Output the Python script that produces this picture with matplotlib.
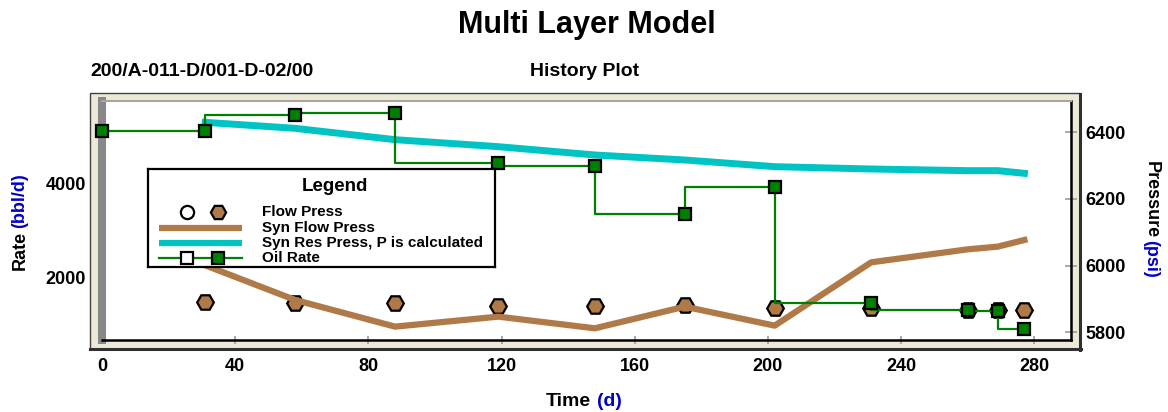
import matplotlib
matplotlib.use("Agg")
import matplotlib.pyplot as plt
from matplotlib.patches import Rectangle
from matplotlib.lines import Line2D

plt.rcParams['font.family'] = ['Liberation Sans', 'DejaVu Sans']
plt.rcParams['font.weight'] = 'bold'

# history data (days)
time_d = [0, 31, 58, 88, 119, 148, 175, 202, 231, 260, 269, 277]
oil_rate = [5120, 5120, 5455, 5500, 4425, 4375, 3355, 3915, 1460, 1315, 1285, 890]

press_t = [31, 58, 88, 119, 148, 175, 202, 231, 260, 269, 277]
flow_press = [5892, 5888, 5888, 5879, 5879, 5882, 5874, 5872, 5867, 5867, 5867]
syn_flow_press = [6001, 5897, 5817, 5847, 5812, 5877, 5820, 6010, 6049, 6057, 6077]
syn_res_press = [6430, 6412, 6378, 6357, 6332, 6317, 6297, 6290, 6285, 6285, 6277]

x_ticks = [0, 40, 80, 120, 160, 200, 240, 280]
rate_ticks = [2000, 4000]
press_ticks = [5800, 6000, 6200, 6400]

BROWN = '#b07a48'
CYAN = '#00c4c4'
GREEN = '#008000'
BLUE = '#0000c8'

W, H = 1168, 412


def fx(px):
    return px / W


def fy(py):
    return 1 - py / H


fig = plt.figure(figsize=(W / 100, H / 100), dpi=100)

# beveled frame around the plot area
fig.patches.append(Rectangle((fx(90), fy(349)), (1080 - 90) / W, (349 - 93) / H,
                             transform=fig.transFigure, facecolor='#ece9d8',
                             edgecolor='#404040', lw=1, zorder=-2))
fig.lines.append(Line2D([fx(1080), fx(1080)], [fy(94), fy(350)], transform=fig.transFigure,
                        color='#303030', lw=2.2, zorder=-1))
fig.lines.append(Line2D([fx(90), fx(1081)], [fy(349), fy(349)], transform=fig.transFigure,
                        color='#303030', lw=2.2, zorder=-1))

ax = fig.add_axes([fx(102), fy(339.5), (1071 - 102) / W, (339.5 - 101) / H])
ax2 = ax.twinx()
ax.set_zorder(ax2.get_zorder() + 1)
ax.patch.set_visible(False)
ax2.patch.set_visible(True)
ax2.patch.set_facecolor('white')

# pressure curves
ax2.plot(press_t, flow_press, linestyle='none', marker='H', ms=12,
         mfc=BROWN, mec='black', mew=1.6, zorder=2)
ax2.plot(press_t, syn_flow_press, color=BROWN, lw=4.5, zorder=3)
ax2.plot(press_t, syn_res_press, color=CYAN, lw=5, zorder=3)

# oil rate
ax.step(time_d, oil_rate, where='pre', color=GREEN, lw=1.6, marker='s', ms=8,
        mfc=GREEN, mec='black', mew=1.6, zorder=3, clip_on=False)

ax.set_xlim(0, 291)
ax.set_ylim(677, 5751)
ax2.set_ylim(5778.4, 6494)

ax.set_xticks(x_ticks)
ax.set_yticks(rate_ticks)
ax2.set_yticks(press_ticks)

ax.spines['right'].set_visible(False)
ax.spines['left'].set_color('#888888')
ax.spines['left'].set_linewidth(5.8)
ax.spines['bottom'].set_color('black')
ax.spines['bottom'].set_linewidth(1.8)
ax.spines['top'].set_color('#aaa69a')
ax.spines['top'].set_linewidth(1.5)
for s in ['left', 'top', 'bottom']:
    ax2.spines[s].set_visible(False)
ax2.spines['right'].set_color('black')
ax2.spines['right'].set_linewidth(1.8)

ax.tick_params(axis='x', direction='inout', length=5.8, width=1.4, color='#a8a8a8',
               pad=10.5, labelsize=13)
ax.tick_params(axis='y', direction='inout', length=5.8, width=1.2, color='#bdbdbd',
               pad=8.6, labelsize=13)
ax2.tick_params(axis='y', direction='inout', length=8.4, width=1.4, color='#a8a8a8',
                pad=5.9, labelsize=13)
for lbl in ax.get_xticklabels() + ax.get_yticklabels() + ax2.get_yticklabels():
    lbl.set_fontweight('bold')

# titles
fig.text(fx(587), fy(33), 'Multi Layer Model', ha='center', va='baseline',
         fontsize=22, fontweight='bold')
fig.text(fx(90), fy(76), '200/A-011-D/001-D-02/00', ha='left', va='baseline',
         fontsize=14, fontweight='bold')
fig.text(fx(585), fy(76), 'History Plot', ha='center', va='baseline',
         fontsize=14, fontweight='bold')

# axis labels with coloured units
fig.text(fx(20), fy(250.5), 'Rate', rotation=90, ha='center', va='center',
         fontsize=13, fontweight='bold')
fig.text(fx(20), fy(200.5), '(bbl/d)', rotation=90, ha='center', va='center',
         fontsize=13, fontweight='bold', color=BLUE)
fig.text(fx(1151), fy(200), 'Pressure', rotation=270, ha='center', va='center',
         fontsize=13, fontweight='bold')
fig.text(fx(1151), fy(259), '(psi)', rotation=270, ha='center', va='center',
         fontsize=13, fontweight='bold', color=BLUE)
fig.text(fx(568), fy(401), 'Time', ha='center', va='center',
         fontsize=14, fontweight='bold')
fig.text(fx(609), fy(401), '(d)', ha='center', va='center',
         fontsize=14, fontweight='bold', color=BLUE)

# legend box, drawn in its own pixel-space axes
lg = fig.add_axes([fx(148), fy(267), (495 - 148) / W, (267 - 169) / H], zorder=10)
lg.set_xlim(148, 495)
lg.set_ylim(267, 169)
lg.set_xticks([])
lg.set_yticks([])
for s in lg.spines.values():
    s.set_linewidth(1.6)
    s.set_color('black')
lg.text(335, 186, 'Legend', ha='center', va='center', fontsize=13.5, fontweight='bold')
rows = [212.3, 227.7, 242.7, 258.3]
lg.plot([186.7], [rows[0]], marker='o', ms=9.5, mfc='white', mec='black', mew=1.6)
lg.plot([217.7], [rows[0]], marker='H', ms=11, mfc=BROWN, mec='black', mew=1.6)
lg.plot([159.3, 241.7], [rows[1]] * 2, color=BROWN, lw=4.5, solid_capstyle='butt')
lg.plot([159.3, 241.7], [rows[2]] * 2, color=CYAN, lw=4.5, solid_capstyle='butt')
lg.plot([159.3, 241.7], [rows[3]] * 2, color=GREEN, lw=1.6)
lg.plot([186.7], [rows[3]], marker='s', ms=8, mfc='white', mec='black', mew=1.6)
lg.plot([217.7], [rows[3]], marker='s', ms=8, mfc=GREEN, mec='black', mew=1.6)
labels = ['Flow Press', 'Syn Flow Press', 'Syn Res Press, P is calculated', 'Oil Rate']
for yy, txt in zip(rows, labels):
    lg.text(261.7, yy, txt, ha='left', va='center', fontsize=11, fontweight='bold')

fig.savefig('out.png', dpi=100)
